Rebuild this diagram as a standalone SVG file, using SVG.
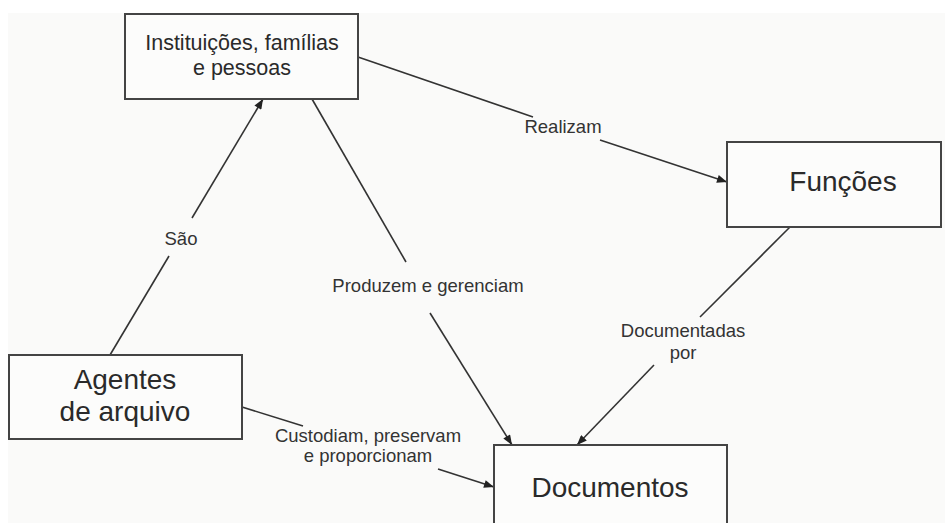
<svg xmlns="http://www.w3.org/2000/svg" width="945" height="523" viewBox="0 0 945 523">
<style>
.box{fill:#fcfcfb;stroke:#444;stroke-width:2}
.bt{font-family:"Liberation Sans",Arial,sans-serif;fill:#2a2a2a;text-anchor:middle}
.lbl{font-family:"Liberation Sans",Arial,sans-serif;font-size:18.5px;fill:#333;text-anchor:middle}
.ln{stroke:#333;stroke-width:1.6;fill:none}
</style>
<defs>
<marker id="ah" viewBox="0 0 10 8" refX="10" refY="4" markerWidth="11" markerHeight="8" markerUnits="userSpaceOnUse" orient="auto">
<path d="M0,0 L10,4 L0,8 Z" fill="#222"/>
</marker>
</defs>
<rect width="945" height="523" fill="#ffffff"/>
<rect x="8" y="13" width="937" height="510" fill="#fafaf9"/>
<g id="connectors">
<line class="ln" x1="110" y1="355" x2="169" y2="256"/>
<line class="ln" x1="192" y1="218" x2="263" y2="99" marker-end="url(#ah)"/>
<line class="ln" x1="312" y1="99" x2="406" y2="262"/>
<line class="ln" x1="430" y1="313" x2="512" y2="445" marker-end="url(#ah)"/>
<line class="ln" x1="358" y1="57" x2="533" y2="117"/>
<line class="ln" x1="600" y1="140" x2="727" y2="182" marker-end="url(#ah)"/>
<line class="ln" x1="790" y1="227" x2="700" y2="317"/>
<line class="ln" x1="654" y1="365" x2="577" y2="445" marker-end="url(#ah)"/>
<line class="ln" x1="242" y1="407" x2="303" y2="426"/>
<line class="ln" x1="438" y1="469" x2="494" y2="487" marker-end="url(#ah)"/>
<text class="lbl" x="181" y="245">São</text>
<text class="lbl" x="428" y="292">Produzem e gerenciam</text>
<text class="lbl" x="563" y="133">Realizam</text>
<text class="lbl" x="683" y="337">Documentadas</text>
<text class="lbl" x="683" y="359">por</text>
<text class="lbl" x="368" y="442">Custodiam, preservam</text>
<text class="lbl" x="368" y="462">e proporcionam</text>
</g>
<g id="instituicoes">
<rect class="box" x="125" y="14" width="233" height="85"/>
<text class="bt" x="242" y="50" font-size="21.5">Instituições, famílias</text>
<text class="bt" x="242" y="75" font-size="21.5">e pessoas</text>
</g>
<g id="funcoes">
<rect class="box" x="727" y="142" width="214" height="85"/>
<text class="bt" x="843" y="191" font-size="28">Funções</text>
</g>
<g id="agentes">
<rect class="box" x="9" y="355" width="233" height="84"/>
<text class="bt" x="125" y="389" font-size="28">Agentes</text>
<text class="bt" x="125" y="421" font-size="28">de arquivo</text>
</g>
<g id="documentos">
<rect class="box" x="494" y="445" width="233" height="90"/>
<text class="bt" x="610" y="497" font-size="28">Documentos</text>
</g>
</svg>
